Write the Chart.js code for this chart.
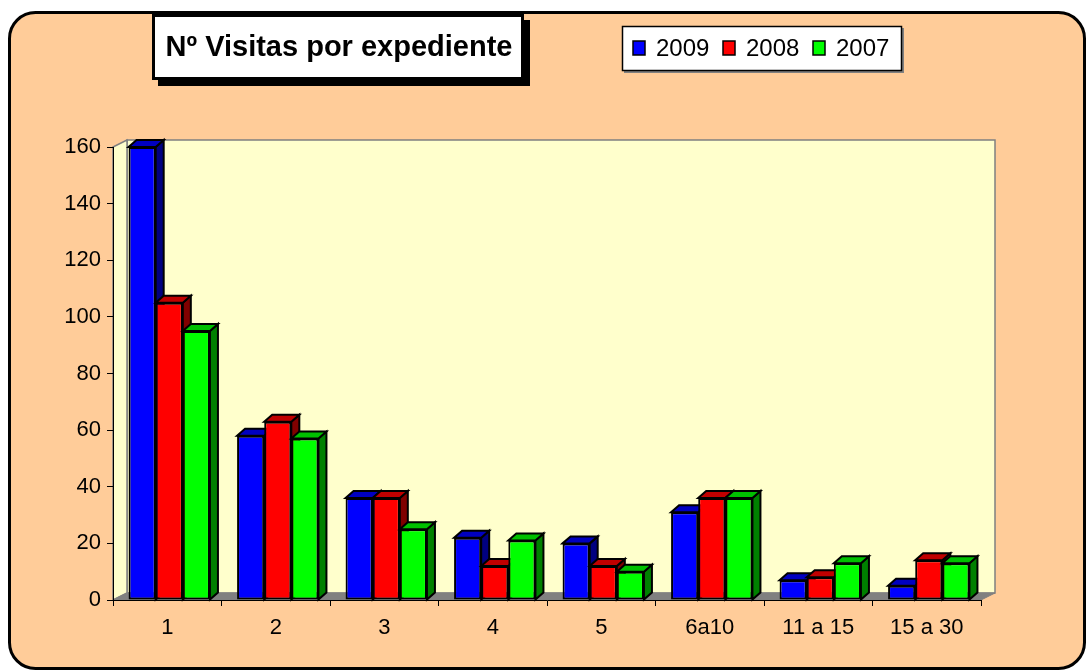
<!DOCTYPE html>
<html>
<head>
<meta charset="utf-8">
<script src="https://cdn.jsdelivr.net/npm/chart.js@4"></script>
<style>
  body { margin: 0; background: #ffffff; }
  #chartBox { width: 1088px; height: 672px; }
</style>
</head>
<body>
<div id="chartBox"><canvas id="visitChart"></canvas></div>
<script>
const chartTitle = 'Nº Visitas por expediente'
const categories = ['1', '2', '3', '4', '5', '6a10', '11 a 15', '15 a 30']
const years = ['2009', '2008', '2007']
const visits2009 = [160, 58, 36, 22, 20, 31, 7, 5]
const visits2008 = [105, 63, 36, 12, 12, 36, 8, 14]
const visits2007 = [95, 57, 25, 21, 10, 36, 13, 13]
const yTickStep = 20
const yMax = 160

const frontColors = ['#0000ff', '#ff0000', '#00ff00']
const topColors = ['#0000c0', '#c00000', '#00c000']
const sideColors = ['#000080', '#800000', '#008000']

const fontFamily = "Arial, 'Liberation Sans', sans-serif"
const depthX = 8
const depthY = 7
const wallX = 14
const wallY = 7

function polygon(ctx, points, fill, stroke, lineWidth) {
  ctx.beginPath()
  ctx.moveTo(points[0][0], points[0][1])
  for (let i = 1; i < points.length; i++) ctx.lineTo(points[i][0], points[i][1])
  ctx.closePath()
  ctx.fillStyle = fill
  ctx.fill()
  if (stroke) {
    ctx.strokeStyle = stroke
    ctx.lineWidth = lineWidth
    ctx.stroke()
  }
}

const scenePlugin = {
  id: 'scene3d',
  beforeDraw(chart) {
    const ctx = chart.ctx
    const a = chart.chartArea
    ctx.save()
    ctx.fillStyle = '#ffffff'
    ctx.fillRect(0, 0, chart.width, chart.height)

    // outer rounded panel
    ctx.beginPath()
    ctx.roundRect(9.5, 12.5, 1075, 656, 26)
    ctx.fillStyle = '#ffcc99'
    ctx.fill()
    ctx.lineWidth = 3
    ctx.strokeStyle = '#000000'
    ctx.stroke()

    // back wall, side wall, floor
    polygon(ctx, [[a.left + wallX, a.top - wallY], [a.right + wallX, a.top - wallY],
      [a.right + wallX, a.bottom - wallY], [a.left + wallX, a.bottom - wallY]], '#ffffcc', '#808080', 1.5)
    polygon(ctx, [[a.left, a.top], [a.left + wallX, a.top - wallY],
      [a.left + wallX, a.bottom - wallY], [a.left, a.bottom]], '#ffffcc', '#808080', 1.5)
    polygon(ctx, [[a.left, a.bottom], [a.left + wallX, a.bottom - wallY],
      [a.right + wallX, a.bottom - wallY], [a.right, a.bottom]], '#808080', '#808080', 1)
    ctx.restore()
  },
  beforeDatasetsDraw(chart) {
    const ctx = chart.ctx
    const metas = chart.data.datasets.map((d, i) => chart.getDatasetMeta(i))
    ctx.save()
    // groups sit slightly right of the category centre in the original
    ctx.translate(2, 0)
    for (let c = 0; c < categories.length; c++) {
      metas.forEach((meta, s) => {
        const bar = meta.data[c]
        const p = bar.getProps(['x', 'y', 'base', 'width'], true)
        const left = p.x - p.width / 2
        const right = p.x + p.width / 2
        polygon(ctx, [[right, p.y], [right + depthX, p.y - depthY],
          [right + depthX, p.base - depthY], [right, p.base]], sideColors[s], '#000000', 2)
        polygon(ctx, [[left, p.y], [left + depthX, p.y - depthY],
          [right + depthX, p.y - depthY], [right, p.y]], topColors[s], '#000000', 2)
        bar.draw(ctx, chart.chartArea)
      })
    }
    ctx.restore()
    return false
  },
  afterDraw(chart) {
    const ctx = chart.ctx
    ctx.save()

    // title box with shadow
    ctx.fillStyle = '#000000'
    ctx.fillRect(158, 20, 372, 66)
    ctx.fillRect(152, 14, 372, 66)
    ctx.fillStyle = '#ffffff'
    ctx.fillRect(155, 17, 366, 60)
    ctx.fillStyle = '#000000'
    ctx.font = `bold 29px ${fontFamily}`
    ctx.textAlign = 'center'
    ctx.textBaseline = 'middle'
    ctx.fillText(chartTitle, 339, 48)

    // legend box
    ctx.fillStyle = '#808080'
    ctx.fillRect(624, 28, 280, 45)
    ctx.fillStyle = '#ffffff'
    ctx.fillRect(622, 26, 280, 45)
    ctx.strokeStyle = '#000000'
    ctx.lineWidth = 1.5
    ctx.strokeRect(622.5, 26.5, 279, 44)
    ctx.font = `24px ${fontFamily}`
    ctx.textAlign = 'left'
    chart.data.datasets.forEach((d, i) => {
      const x = 633 + i * 90
      ctx.fillStyle = d.backgroundColor
      ctx.fillRect(x, 41, 12, 14)
      ctx.strokeStyle = '#000000'
      ctx.lineWidth = 1.5
      ctx.strokeRect(x, 41, 12, 14)
      ctx.fillStyle = '#000000'
      ctx.fillText(d.label, x + 23, 49)
    })
    ctx.restore()
  }
}

const seriesValues = [visits2009, visits2008, visits2007]

const data = {
  labels: categories,
  datasets: years.map((year, i) => ({
    label: year,
    data: seriesValues[i],
    backgroundColor: frontColors[i],
    borderColor: '#000000',
    borderWidth: 2,
    borderSkipped: false,
    categoryPercentage: 0.75,
    barPercentage: 1.0
  }))
}

const config = {
  type: 'bar',
  data: data,
  plugins: [scenePlugin],
  options: {
    responsive: false,
    animation: false,
    layout: {
      padding: { left: 0, top: 147, right: 107, bottom: 0 }
    },
    plugins: {
      legend: { display: false },
      title: { display: false },
      tooltip: { enabled: false }
    },
    scales: {
      x: {
        afterFit: scale => { scale.height = 72 },
        grid: { drawOnChartArea: false, drawTicks: true, tickLength: 6, color: '#000000', offset: true },
        border: { display: true, color: '#000000', width: 1 },
        ticks: { color: '#000000', font: { family: fontFamily, size: 22 }, padding: 9, maxRotation: 0, autoSkip: false }
      },
      y: {
        min: 0,
        max: yMax,
        afterFit: scale => { scale.width = 113 },
        grid: { drawOnChartArea: false, drawTicks: true, tickLength: 6, color: '#000000' },
        border: { display: true, color: '#000000', width: 1 },
        ticks: { stepSize: yTickStep, color: '#000000', font: { family: fontFamily, size: 22 }, padding: 6 }
      }
    }
  }
}

const canvas = document.getElementById('visitChart')
canvas.width = 1088
canvas.height = 672
new Chart(canvas.getContext('2d'), config)
</script>
</body>
</html>
